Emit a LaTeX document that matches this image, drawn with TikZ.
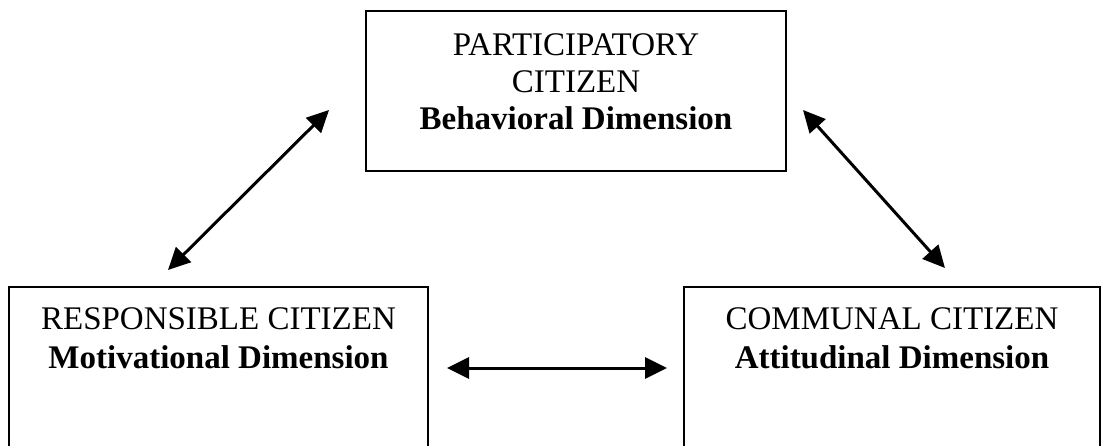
\documentclass[tikz,border=0pt]{standalone}
\usepackage{fontspec}
\setmainfont{Liberation Serif}
\usetikzlibrary{arrows.meta}
\begin{document}
\begin{tikzpicture}[x=1pt,y=-1pt,
  box/.style={draw, line width=2.7pt, inner sep=0pt},
  lbl/.style={align=center, inner sep=0pt, anchor=north, font=\fontsize{33}{#1}\selectfont},
  conn/.style={line width=3pt, {Triangle[length=22pt,width=21pt]}-{Triangle[length=22pt,width=21pt]}}]
\useasboundingbox (0,0) rectangle (1103,445);
\clip (0,0) rectangle (1103,445);
\node[box, minimum width=420pt, minimum height=160pt] (boxT) at (576,91) {};
\node[box, minimum width=419pt, minimum height=240pt] (boxL) at (218.5,407) {};
\node[box, minimum width=416pt, minimum height=240pt] (boxR) at (892,407) {};
\node[lbl=37] (txtT) at (576,33) {PARTICIPATORY\\CITIZEN\\\textbf{Behavioral Dimension}};
\node[lbl=39] (txtL) at (218.5,307) {RESPONSIBLE CITIZEN\\\textbf{Motivational Dimension}};
\node[lbl=39] (txtR) at (892,307) {COMMUNAL CITIZEN\\\textbf{Attitudinal Dimension}};
\coordinate (aLT) at (168,270);
\coordinate (aTL) at (329,110);
\coordinate (aTR) at (803,110);
\coordinate (aRT) at (945,268);
\coordinate (aLR) at (447,368);
\coordinate (aRL) at (667,368);
\draw[conn] (aLT) -- (aTL);
\draw[conn] (aTR) -- (aRT);
\draw[conn] (aLR) -- (aRL);
\end{tikzpicture}
\end{document}
